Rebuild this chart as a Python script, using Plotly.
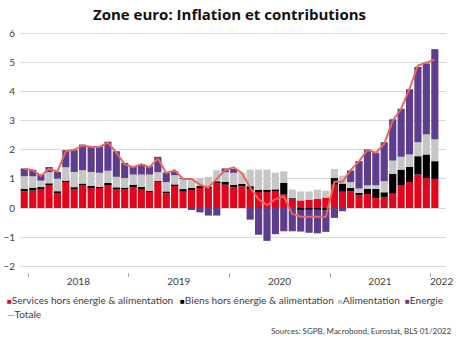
import plotly.graph_objects as go
import pandas as pd

# Monthly categories: Dec 2017 .. Jan 2022
months = [d.strftime("%Y-%m-%d") for d in pd.date_range("2017-12-01", "2022-01-01", freq="MS")]

services = [0.57, 0.60, 0.63, 0.82, 0.52, 0.91, 0.66, 0.77, 0.72, 0.69, 0.82, 0.66,
            0.66, 0.75, 0.63, 0.57, 0.90, 0.50, 0.78, 0.56, 0.62, 0.69, 0.70, 0.84,
            0.80, 0.72, 0.75, 0.63, 0.57, 0.57, 0.60, 0.46, 0.31, 0.26, 0.29, 0.32,
            0.36, 0.80, 0.56, 0.57, 0.43, 0.48, 0.34, 0.38, 0.49, 0.77, 0.89, 1.15,
            1.03, 1.00]
biens = [0.09, 0.10, 0.09, 0.02, 0.05, 0.02, 0.05, 0.07, 0.04, 0.03, 0.04, 0.04,
         0.03, 0.05, 0.09, 0.01, 0.02, 0.07, 0.02, 0.09, 0.07, 0.06, 0.02, 0.08,
         0.10, 0.08, 0.08, 0.12, 0.06, 0.06, 0.03, 0.40, 0.02, -0.06, -0.05, -0.05,
         -0.07, 0.23, 0.28, 0.12, 0.09, 0.18, 0.32, 0.16, 0.69, 0.55, 0.52, 0.63,
         0.81, 0.61]
alimentation = [0.43, 0.39, 0.22, 0.39, 0.44, 0.47, 0.53, 0.46, 0.48, 0.49, 0.42, 0.37,
                0.34, 0.35, 0.43, 0.57, 0.31, 0.32, 0.33, 0.36, 0.32, 0.28, 0.35, 0.38,
                0.33, 0.41, 0.38, 0.57, 0.69, 0.69, 0.58, 0.40, 0.30, 0.31, 0.28, 0.31,
                0.23, 0.31, 0.27, 0.20, 0.15, 0.12, 0.12, 0.38, 0.45, 0.44, 0.43, 0.48,
                0.69, 0.75]
energie = [0.27, 0.22, 0.21, 0.18, 0.23, 0.59, 0.75, 0.88, 0.89, 0.92, 1.00, 0.88,
           0.52, 0.29, 0.34, 0.29, 0.53, 0.33, 0.13, 0.01, -0.05, -0.15, -0.26, -0.26,
           0.13, 0.13, 0.00, -0.40, -0.92, -1.13, -0.90, -0.80, -0.80, -0.75, -0.80, -0.82,
           -0.75, -0.34, -0.11, 0.40, 0.94, 1.23, 1.12, 1.34, 1.42, 1.65, 2.24, 2.59,
           2.44, 3.10]
totale = [1.35, 1.30, 1.10, 1.35, 1.25, 1.95, 2.00, 2.15, 2.10, 2.10, 2.25, 1.90,
          1.50, 1.40, 1.50, 1.40, 1.70, 1.20, 1.30, 1.00, 1.00, 0.80, 0.70, 1.00,
          1.30, 1.40, 1.20, 0.70, 0.30, 0.10, 0.30, 0.40, -0.20, -0.30, -0.30, -0.30,
          -0.30, 0.90, 0.90, 1.30, 1.60, 2.00, 1.90, 2.20, 3.00, 3.40, 4.10, 4.90,
          5.00, 5.10]

year_labels = ["2018", "2019", "2020", "2021", "2022"]
year_label_dates = ["2018-07-01", "2019-07-01", "2020-07-01", "2021-07-01", "2022-02-10"]

series_names = ["Services hors énergie & alimentation", "Biens hors énergie & alimentation",
                "Alimentation", "Energie"]
series_values = [services, biens, alimentation, energie]
series_colors = ["#E3051B", "#000000", "#C6C6C6", "#5E3C8E"]
line_color = "#E9665C"

FONT = "Lato"
TXT = "#404040"

fig = go.Figure()
for name, vals, col in zip(series_names, series_values, series_colors):
    fig.add_trace(go.Bar(x=months, y=vals, name=name, marker_color=col, marker_line_width=0,
                         xperiod="M1", xperiodalignment="middle"))
fig.add_trace(go.Scatter(x=months, y=totale, name="Totale", mode="lines",
                         line=dict(color=line_color, width=2),
                         xperiod="M1", xperiodalignment="middle"))

fig.update_layout(
    width=460, height=343,
    margin=dict(l=20, r=14, t=32, b=71),
    barmode="relative", bargap=0.12,
    plot_bgcolor="white", paper_bgcolor="white",
    showlegend=False,
    font=dict(family=FONT, size=10, color=TXT),
)
fig.update_xaxes(
    type="date", range=["2017-12-01", "2022-02-26"], automargin=False,
    tickvals=year_label_dates, ticktext=year_labels, ticks="",
    showgrid=False, showline=False, zeroline=False,
    tickfont=dict(family=FONT, size=10, color=TXT), ticklabelstandoff=2,
    minor=dict(ticks="outside", ticklen=4, tickcolor="#A6A6A6", tickwidth=1,
               dtick="M12", tick0="2018-01-01", showgrid=False),
)
fig.update_yaxes(
    range=[-2.2, 6.05], dtick=1, tick0=0, automargin=False,
    showgrid=True, gridcolor="#D9D9D9", gridwidth=1, zeroline=False, showline=False,
    tickfont=dict(family=FONT, size=10, color=TXT), ticklabelstandoff=4,
)

def px_to_paper_x(X):
    return (X - 20) / 426.0

def px_to_paper_y(Y):
    return (272 - Y) / 240.0

# title
fig.add_annotation(text="<b>Zone euro: Inflation et contributions</b>", xref="paper", yref="paper",
                   x=px_to_paper_x(229), y=px_to_paper_y(14), xanchor="center", yanchor="middle",
                   showarrow=False, font=dict(family="Open Sans", size=15, color="#111111"))

# legend (as text)
legend_items = [(series_names[0], series_colors[0], 6, 299.5),
                (series_names[1], series_colors[1], 179, 299.5),
                (series_names[2], series_colors[2], 337, 299.5),
                (series_names[3], series_colors[3], 404, 299.5)]
for name, col, X, Y in legend_items:
    fig.add_annotation(text=f"<span style='color:{col};font-size:8px'>■</span>{name}",
                       xref="paper", yref="paper", x=px_to_paper_x(X), y=px_to_paper_y(Y),
                       xanchor="left", yanchor="middle", showarrow=False, borderpad=0,
                       font=dict(family=FONT, size=10.1, color=TXT))
fig.add_annotation(text=f"<span style='color:{line_color}'>—</span>Totale",
                   xref="paper", yref="paper", x=px_to_paper_x(6), y=px_to_paper_y(314),
                   xanchor="left", yanchor="middle", showarrow=False, borderpad=0,
                   font=dict(family=FONT, size=10.1, color=TXT))

fig.add_annotation(text="Sources: SGPB, Macrobond, Eurostat, BLS 01/2022",
                   xref="paper", yref="paper", x=px_to_paper_x(452), y=px_to_paper_y(330.7),
                   xanchor="right", yanchor="middle", showarrow=False, borderpad=0,
                   font=dict(family=FONT, size=8, color=TXT))

fig.write_html("out.html")
